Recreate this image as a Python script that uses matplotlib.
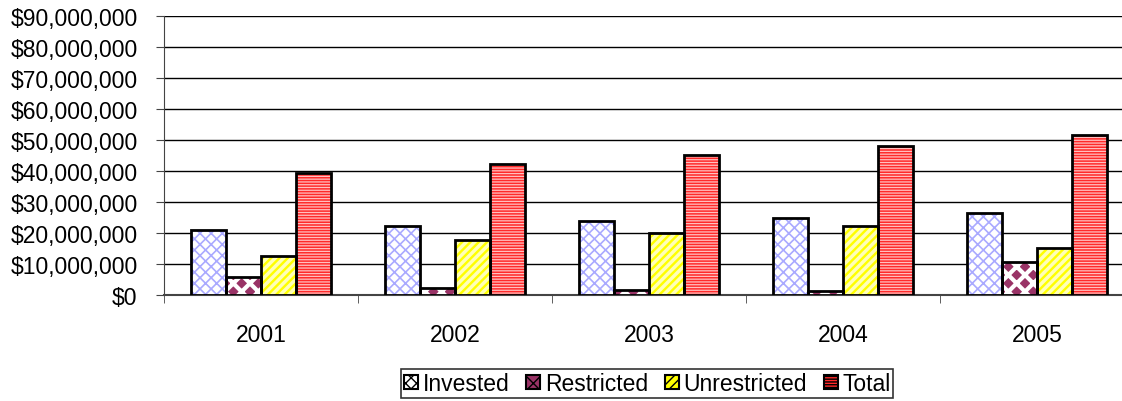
import numpy as np
import matplotlib.pyplot as plt
from matplotlib.patches import Patch
from matplotlib.ticker import FuncFormatter

plt.rcParams['font.family'] = ['Liberation Sans', 'DejaVu Sans']

years = ['2001', '2002', '2003', '2004', '2005']
invested = [21.0e6, 22.3e6, 23.9e6, 24.8e6, 26.5e6]
restricted = [5.8e6, 2.3e6, 1.6e6, 1.3e6, 10.6e6]
unrestricted = [12.6e6, 17.7e6, 20.0e6, 22.3e6, 15.2e6]
total = [39.4e6, 42.3e6, 45.2e6, 48.1e6, 51.6e6]

# name, values, face, hatch colour, hatch, hatch width
series = [
    ('Invested', invested, 'white', '#aaaaff', 'xxx', 1.2),
    ('Restricted', restricted, '#993366', 'white', 'xx', 3.0),
    ('Unrestricted', unrestricted, '#ffff00', '#ffffb8', '////', 2.5),
    ('Total', total, '#ff2a2a', '#ffc0c0', '------', 0.9),
]

fig = plt.figure(figsize=(11.22, 4.02), dpi=100)
ax = fig.add_axes([0.1462, 0.2637, 0.8538, 0.694])

x = np.arange(len(years))
w = 0.18
handles = []
for i, (name, vals, fc, hc, hatch, hlw) in enumerate(series):
    pos = x + (i - 1.5) * w
    bars = ax.bar(pos, vals, w, color=fc, edgecolor=hc, hatch=hatch, linewidth=0, zorder=3)
    for b in bars:
        if hasattr(b, 'set_hatch_linewidth'):
            b.set_hatch_linewidth(hlw)
    ax.bar(pos, vals, w, fill=False, edgecolor='black', linewidth=2, zorder=4)
    handles.append(Patch(facecolor=fc, edgecolor=hc, hatch=hatch, label=name))

ax.set_xlim(-0.5, 4.438)
ax.set_ylim(0, 90e6)
ax.set_yticks(np.arange(0, 90e6 + 1, 10e6))
ax.yaxis.set_major_formatter(FuncFormatter(lambda v, p: '${:,.0f}'.format(v)))
ax.yaxis.grid(True, color='black', linewidth=1)
ax.set_axisbelow(True)
ax.set_xticks(x)
ax.set_xticklabels(years)
ax.set_xticks(np.arange(-0.5, 4.5, 1), minor=True)
ax.tick_params(axis='x', which='major', length=0, pad=20, labelsize=16.5)
ax.tick_params(axis='x', which='minor', length=6, color='#444444')
ax.tick_params(axis='y', length=6, labelsize=16.5, pad=13, color='#444444')
ax.spines['top'].set_visible(False)
ax.spines['right'].set_visible(False)
ax.spines['left'].set_color('#444444')
ax.spines['bottom'].set_color('#444444')
ax.spines['bottom'].set_linewidth(1.5)

leg = fig.legend(handles=handles, loc='center', bbox_to_anchor=(0.577, 0.043), ncol=4,
                 frameon=True, fancybox=False, edgecolor='black', fontsize=16.5,
                 handlelength=0.6, handleheight=0.6, handletextpad=0.2, columnspacing=0.75,
                 borderpad=0.12, borderaxespad=0)
leg.get_frame().set_linewidth(1.2)
for h in leg.legend_handles:
    h.set_edgecolor('black')
    h.set_linewidth(1.5)

fig.savefig('out.png', dpi=100)
